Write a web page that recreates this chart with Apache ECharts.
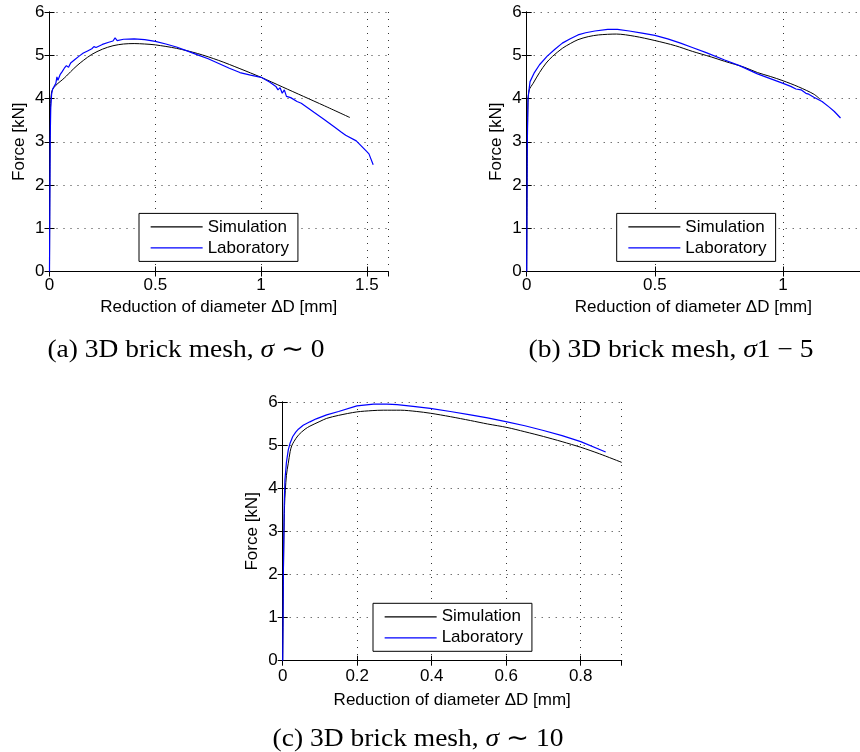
<!DOCTYPE html>
<html>
<head>
<meta charset="utf-8">
<script src="https://cdn.jsdelivr.net/npm/echarts@6/dist/echarts.min.js"></script>
<style>
html,body{margin:0;padding:0;background:#fff;}
#wrap{position:relative;width:860px;height:752px;background:#fff;}
.panel{position:absolute;left:0;top:0;width:860px;height:752px;}
</style>
</head>
<body>
<div id="wrap">
  <div class="panel" id="pa"></div>
  <div class="panel" id="pb"></div>
  <div class="panel" id="pc"></div>
</div>
<script>
// ---------- Data ----------
const seriesNames = ['Simulation', 'Laboratory'];

// (a) sigma ~ 0
const simA_x = [0, 0.002, 0.005, 0.01, 0.02, 0.04, 0.06, 0.08, 0.1, 0.13, 0.16, 0.2, 0.25, 0.3, 0.35, 0.4, 0.45, 0.5, 0.6, 0.7, 0.8, 0.9, 1.0, 1.1, 1.2, 1.3, 1.42];
const simA_y = [0, 2.5, 3.8, 4.15, 4.25, 4.35, 4.43, 4.52, 4.62, 4.76, 4.88, 5.02, 5.14, 5.22, 5.26, 5.27, 5.26, 5.24, 5.16, 5.04, 4.88, 4.69, 4.49, 4.27, 4.05, 3.83, 3.56];
const labA_x = [0, 0.003, 0.006, 0.01, 0.015, 0.02, 0.03, 0.035, 0.04, 0.05, 0.06, 0.07, 0.08, 0.09, 0.1, 0.12, 0.14, 0.16, 0.18, 0.2, 0.21, 0.22, 0.25, 0.28, 0.3, 0.31, 0.32, 0.35, 0.4, 0.45, 0.5, 0.55, 0.6, 0.65, 0.7, 0.75, 0.8, 0.85, 0.9, 0.95, 1.0, 1.04, 1.07, 1.08, 1.09, 1.1, 1.11, 1.12, 1.14, 1.17, 1.19, 1.25, 1.3, 1.35, 1.38, 1.4, 1.45, 1.5, 1.51, 1.53];
const labA_y = [0, 3.0, 3.8, 4.1, 4.22, 4.25, 4.35, 4.5, 4.42, 4.55, 4.62, 4.7, 4.76, 4.72, 4.82, 4.9, 4.98, 5.05, 5.1, 5.15, 5.2, 5.18, 5.25, 5.3, 5.33, 5.4, 5.34, 5.37, 5.38, 5.36, 5.32, 5.26, 5.19, 5.1, 5.01, 4.92, 4.81, 4.7, 4.6, 4.54, 4.49, 4.38, 4.28, 4.2, 4.25, 4.12, 4.2, 4.05, 4.02, 3.93, 3.89, 3.68, 3.51, 3.33, 3.22, 3.15, 3.02, 2.77, 2.72, 2.47];

// (b) sigma 1-5
const simB_x = [0, 0.002, 0.005, 0.01, 0.025, 0.05, 0.076, 0.1, 0.139, 0.17, 0.2, 0.24, 0.28, 0.35, 0.42, 0.5, 0.58, 0.646, 0.72, 0.772, 0.85, 0.9, 0.95, 1.0, 1.06, 1.12, 1.145];
const simB_y = [0, 2.5, 3.9, 4.2, 4.35, 4.6, 4.82, 4.97, 5.16, 5.27, 5.36, 5.43, 5.47, 5.49, 5.44, 5.34, 5.22, 5.09, 4.96, 4.86, 4.72, 4.6, 4.51, 4.41, 4.27, 4.1, 3.98];
const labB_x = [0, 0.002, 0.005, 0.013, 0.03, 0.05, 0.08, 0.11, 0.139, 0.17, 0.2, 0.23, 0.266, 0.316, 0.354, 0.4, 0.45, 0.5, 0.55, 0.6, 0.646, 0.7, 0.772, 0.83, 0.9, 0.95, 1.0, 1.03, 1.05, 1.07, 1.089, 1.1, 1.12, 1.152, 1.18, 1.2, 1.224];
const labB_y = [0, 2.8, 4.0, 4.39, 4.6, 4.78, 4.98, 5.14, 5.28, 5.38, 5.47, 5.52, 5.56, 5.6, 5.6, 5.56, 5.51, 5.46, 5.38, 5.28, 5.18, 5.06, 4.89, 4.76, 4.57, 4.46, 4.35, 4.28, 4.22, 4.2, 4.12, 4.1, 4.03, 3.93, 3.8, 3.7, 3.55];

// (c) sigma ~ 10
const simC_x = [0, 0.002, 0.005, 0.01, 0.015, 0.02, 0.024, 0.03, 0.042, 0.06, 0.073, 0.1, 0.118, 0.15, 0.199, 0.24, 0.27, 0.316, 0.36, 0.396, 0.45, 0.504, 0.55, 0.602, 0.65, 0.7, 0.75, 0.8, 0.85, 0.91];
const simC_y = [0, 2.0, 3.6, 4.3, 4.58, 4.85, 4.98, 5.08, 5.23, 5.37, 5.44, 5.55, 5.62, 5.69, 5.77, 5.8, 5.81, 5.81, 5.78, 5.74, 5.66, 5.57, 5.49, 5.41, 5.31, 5.2, 5.08, 4.95, 4.8, 4.6];
const labC_x = [0, 0.002, 0.004, 0.006, 0.01, 0.015, 0.02, 0.027, 0.035, 0.042, 0.055, 0.073, 0.09, 0.118, 0.15, 0.199, 0.244, 0.28, 0.307, 0.35, 0.396, 0.45, 0.504, 0.55, 0.602, 0.65, 0.7, 0.75, 0.8, 0.867];
const labC_y = [0, 2.2, 3.6, 4.19, 4.6, 4.89, 5.05, 5.2, 5.3, 5.37, 5.46, 5.54, 5.61, 5.7, 5.78, 5.91, 5.95, 5.95, 5.94, 5.9, 5.85, 5.78, 5.7, 5.63, 5.54, 5.45, 5.34, 5.22, 5.08, 4.84];

// Axis tick settings
const xLabelA = ['0', '0.5', '1', '1.5'];
const xLabelB = ['0', '0.5', '1'];
const xLabelC = ['0', '0.2', '0.4', '0.6', '0.8'];
const xMaxA = 1.6, xMaxB = 1.3, xMaxC = 0.91;
const xStepA = 0.5, xStepB = 0.5, xStepC = 0.2;

const captions = [
  ['(a) 3D brick mesh, ', 'σ', ' ∼ 0'],
  ['(b) 3D brick mesh, ', 'σ', '1 − 5'],
  ['(c) 3D brick mesh, ', 'σ', ' ∼ 10']
];
const xTitle = 'Reduction of diameter ΔD [mm]';
const yTitle = 'Force [kN]';

// ---------- Build ----------
const zip = (xs, ys) => xs.map((x, i) => [x, ys[i]]);
const SANS = 'Liberation Sans';
const SERIF = 'Liberation Serif';
const seriesColors = ['#000000', '#0000ff'];

const panels = [
  { el: 'pa', grid: { left: 49.5, top: 12, width: 338.5, height: 259.5 },
    max: xMaxA, step: xStepA, labels: xLabelA, margin: 5, gap: 27,
    sim: zip(simA_x, simA_y), lab: zip(labA_x, labA_y), legend: [139, 213.4], cap: [186, 350] },
  { el: 'pb', grid: { left: 526.7, top: 12, width: 342.3, height: 259.5 },
    max: xMaxB, step: xStepB, labels: xLabelB, margin: 5, gap: 27,
    sim: zip(simB_x, simB_y), lab: zip(labB_x, labB_y), legend: [616.7, 213.4], cap: [671, 350] },
  { el: 'pc', grid: { left: 282.7, top: 402, width: 339, height: 258.7 },
    max: xMaxC, step: xStepC, labels: xLabelC, margin: 7, gap: 31,
    sim: zip(simC_x, simC_y), lab: zip(labC_x, labC_y), legend: [373, 603.3], cap: [418, 739] }
];

panels.forEach((c, i) => {
  const fmt = v => {
    const k = Math.round(v / c.step);
    if (Math.abs(k * c.step - v) > 1e-6) return '';
    return c.labels[k] !== undefined ? c.labels[k] : '';
  };
  const tick = { show: true, inside: true, length: 5, lineStyle: { color: '#000' } };
  const line = { show: true, lineStyle: { color: '#000', width: 1 } };
  const split = { show: true, lineStyle: { color: '#333', width: 1, type: [1, 6] } };
  const option = {
    animation: false,
    backgroundColor: 'transparent',
    color: seriesColors,
    grid: Object.assign({ containLabel: false, show: false }, c.grid),
    xAxis: [
      { type: 'value', position: 'bottom', min: 0, max: c.max, interval: c.step,
        axisLine: line, axisTick: tick, splitLine: split,
        axisLabel: { formatter: fmt, color: '#000', fontFamily: SANS, fontSize: 17, margin: c.margin, showMaxLabel: false },
        name: xTitle, nameLocation: 'middle', nameGap: c.gap,
        nameTextStyle: { color: '#000', fontFamily: SANS, fontSize: 17 } },
      { type: 'value', position: 'top', min: 0, max: c.max, interval: c.step,
        axisLine: line, axisTick: tick, axisLabel: { show: false }, splitLine: { show: false } }
    ],
    yAxis: [
      { type: 'value', position: 'left', min: 0, max: 6, interval: 1,
        axisLine: line, axisTick: tick, splitLine: split,
        axisLabel: { color: '#000', fontFamily: SANS, fontSize: 17, margin: 5 },
        name: yTitle, nameLocation: 'middle', nameGap: 22, nameRotate: 90,
        nameTextStyle: { color: '#000', fontFamily: SANS, fontSize: 17 } },
      { type: 'value', position: 'right', min: 0, max: 6, interval: 1,
        axisLine: line, axisTick: tick, axisLabel: { show: false }, splitLine: { show: false } }
    ],
    legend: {
      left: c.legend[0], top: c.legend[1], orient: 'vertical', selectedMode: false,
      data: seriesNames.map((n, k) => ({
        name: n,
        itemStyle: { color: seriesColors[k], opacity: 0, borderWidth: 0 },
        lineStyle: { color: seriesColors[k], width: 1.3, opacity: 1 }
      })),
      borderColor: '#000', borderWidth: 1, borderRadius: 0, backgroundColor: '#fff',
      padding: [5, 9, 5, 11], itemWidth: 52, itemHeight: 1, itemGap: 4,
      textStyle: { color: '#000', fontFamily: SANS, fontSize: 17, lineHeight: 17 }
    },
    series: [
      { name: seriesNames[0], type: 'line', data: c.sim, symbol: 'none', showSymbol: false, smooth: 0.3,
        color: seriesColors[0], lineStyle: { color: seriesColors[0], width: 1 }, itemStyle: { color: seriesColors[0] } },
      { name: seriesNames[1], type: 'line', data: c.lab, symbol: 'none', showSymbol: false,
        color: seriesColors[1], lineStyle: { color: seriesColors[1], width: 1.2 }, itemStyle: { color: seriesColors[1] } }
    ],
    graphic: [{
      type: 'text', x: c.cap[0], y: c.cap[1], scaleX: 1.1, silent: true,
      style: {
        text: '{n|' + captions[i][0] + '}{i|' + captions[i][1] + '}{n|' + captions[i][2] + '}',
        align: 'center', verticalAlign: 'middle',
        rich: {
          n: { fontFamily: SERIF, fontSize: 25, fill: '#000', color: '#000' },
          i: { fontFamily: SERIF, fontSize: 25, fontStyle: 'italic', fill: '#000', color: '#000' }
        }
      }
    }]
  };
  const chart = echarts.init(document.getElementById(c.el), null, { renderer: 'canvas' });
  chart.setOption(option);
});
</script>
</body>
</html>
